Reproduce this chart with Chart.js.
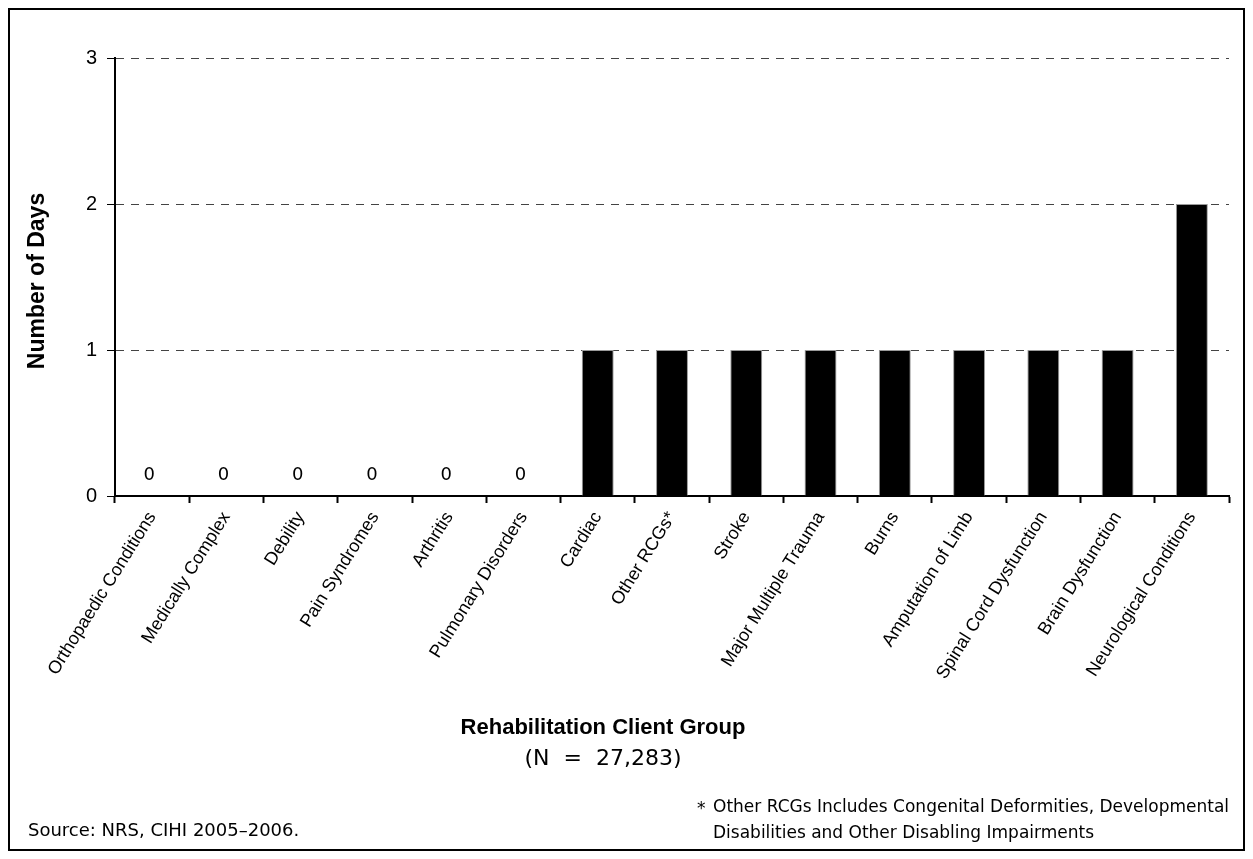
<!DOCTYPE html>
<html lang="en">
<head>
    <meta charset="UTF-8">
    <title>Number of Days - Rehabilitation Client Group</title>
    <script src="https://cdn.jsdelivr.net/npm/chart.js@4.4.0/dist/chart.umd.min.js"></script>
    <style>
        html, body { margin: 0; padding: 0; background: #fff; }
        #wrap { width: 1253px; height: 859px; position: relative; }
    </style>
</head>
<body>
<div id="wrap">
    <canvas id="bar_days" width="1253" height="859"></canvas>
</div>
<script>
    // data
    const groups = ['Orthopaedic Conditions', 'Medically Complex', 'Debility', 'Pain Syndromes', 'Arthritis',
        'Pulmonary Disorders', 'Cardiac', 'Other RCGs*', 'Stroke', 'Major Multiple Trauma', 'Burns',
        'Amputation of Limb', 'Spinal Cord Dysfunction', 'Brain Dysfunction', 'Neurological Conditions'];
    const days = [0, 0, 0, 0, 0, 0, 1, 1, 1, 1, 1, 1, 1, 1, 2];
    const yTicks = [0, 1, 2, 3];

    const xTitle = 'Rehabilitation Client Group';
    const nLine = '(N  =  27,283)';
    const sourceNote = 'Source: NRS, CIHI 2005\u20132006.';
    const footNote = ['Other RCGs Includes Congenital Deformities, Developmental',
        'Disabilities and Other Disabling Impairments'];

    // draws "0" over the empty bars, using the bar element positions
    const zeroLabels = {
        id: 'zeroLabels',
        afterDatasetsDraw(chart) {
            const ctx = chart.ctx;
            const meta = chart.getDatasetMeta(0);
            ctx.save();
            ctx.font = '18px "DejaVu Sans", Verdana, sans-serif';
            ctx.fillStyle = '#000';
            ctx.textAlign = 'center';
            ctx.textBaseline = 'middle';
            meta.data.forEach((bar, i) => {
                if (days[i] === 0) {
                    ctx.fillText('0', bar.x - 3, bar.y - 21);
                }
            });
            ctx.restore();
        }
    };

    // frame, axis titles and notes
    const extras = {
        id: 'extras',
        afterDraw(chart) {
            const ctx = chart.ctx;
            ctx.save();
            ctx.strokeStyle = '#000';
            ctx.lineWidth = 2;
            ctx.strokeRect(9, 9, 1235, 841);

            ctx.fillStyle = '#000';
            // y title
            ctx.save();
            ctx.translate(38, 281);
            ctx.rotate(-Math.PI / 2);
            ctx.font = 'bold 23px "Liberation Sans", Arial, sans-serif';
            ctx.textAlign = 'center';
            ctx.textBaseline = 'middle';
            ctx.fillText('Number of Days', 0, 0);
            ctx.restore();

            // x title
            ctx.textAlign = 'center';
            ctx.textBaseline = 'middle';
            ctx.font = 'bold 22px "Liberation Sans", Arial, sans-serif';
            ctx.fillText(xTitle, 603, 728);
            ctx.font = '22px "DejaVu Sans", Verdana, sans-serif';
            ctx.fillText(nLine, 603, 759);

            // notes
            ctx.textAlign = 'left';
            ctx.font = '18px "DejaVu Sans", Verdana, sans-serif';
            ctx.fillText(sourceNote, 28, 831);
            ctx.font = '17px "DejaVu Sans", Verdana, sans-serif';
            ctx.fillText('*', 697, 810);
            ctx.fillText(footNote[0], 713, 808);
            ctx.fillText(footNote[1], 713, 834);
            ctx.restore();
        }
    };

    const ctx = document.getElementById('bar_days').getContext('2d');
    const myChart = new Chart(ctx, {
        type: 'bar',
        data: {
            labels: groups,
            datasets: [{
                label: 'Number of Days',
                data: days,
                backgroundColor: '#000',
                borderColor: '#9a9a9a',
                borderWidth: 1,
                categoryPercentage: 1.0,
                barPercentage: 0.43,
            }]
        },
        options: {
            responsive: false,
            animation: false,
            layout: {
                padding: { left: 0, top: 58, right: 24, bottom: 0 }
            },
            plugins: {
                legend: { display: false },
                tooltip: { enabled: false },
            },
            scales: {
                x: {
                    afterFit(scale) { scale.height = 363; },
                    grid: {
                        display: true,
                        drawOnChartArea: false,
                        offset: true,
                        tickLength: 7,
                        tickColor: '#000',
                        tickWidth: 2,
                    },
                    border: { display: true, color: '#000', width: 2 },
                    ticks: {
                        autoSkip: false,
                        minRotation: 58,
                        maxRotation: 58,
                        padding: 5,
                        color: '#000',
                        font: { family: '"Liberation Sans", Arial, sans-serif', size: 18 },
                    }
                },
                y: {
                    min: 0,
                    max: 3,
                    afterFit(scale) { scale.width = 115; },
                    afterBuildTicks(scale) { scale.ticks = yTicks.map(v => ({ value: v })); },
                    grid: {
                        color: '#444',
                        lineWidth: 1,
                        tickLength: 8,
                        tickColor: '#000',
                        tickWidth: 1,
                        tickBorderDash: [],
                    },
                    border: { display: true, color: '#000', width: 2, dash: [8, 7] },
                    ticks: {
                        padding: 10,
                        color: '#000',
                        font: { family: '"Liberation Sans", Arial, sans-serif', size: 20 },
                    }
                }
            }
        },
        plugins: [zeroLabels, extras]
    });
</script>
</body>
</html>
